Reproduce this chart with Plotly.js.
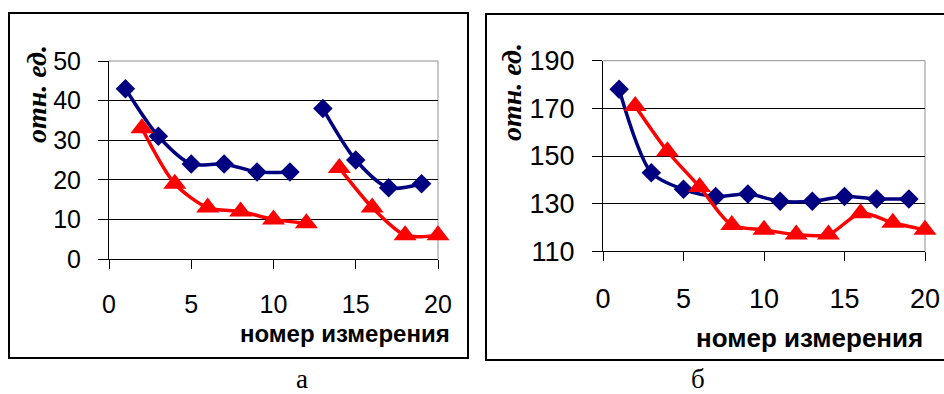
<!DOCTYPE html>
<html>
<head>
<meta charset="utf-8">
<script src="https://cdn.plot.ly/plotly-3.0.1.min.js"></script>
<style>html,body{margin:0;padding:0;background:#fff;}#chart{width:944px;height:394px;}</style>
</head>
<body>
<div id="chart"></div>
<script>
// ---- data (panel а) ----
const xBlueA = [1, 3, 5, 7, 9, 11, 12, 13, 15, 17, 19];
const yBlueA = [43, 31, 24, 24, 22, 22, null, 38, 25, 18, 19];
const xRedA  = [2, 4, 6, 8, 10, 12, 13, 14, 16, 18, 20];
const yRedA  = [33, 19, 13, 12, 10, 9, null, 23, 13, 6, 6];
// ---- data (panel б) ----
const xBlueB = [1, 3, 5, 7, 9, 11, 13, 15, 17, 19];
const yBlueB = [178, 143, 136, 133, 134, 131, 131, 133, 132, 132];
const xRedB  = [2, 4, 6, 8, 10, 12, 14, 16, 18, 20];
const yRedB  = [171, 152, 137, 121, 119, 117, 117, 126, 122, 119];
// ---- ticks / text ----
const xTicks = [0, 5, 10, 15, 20];
const yTicksA = [0, 10, 20, 30, 40, 50];
const yTicksB = [110, 130, 150, 170, 190];
const xTitle = 'номер измерения';
const yTitle = 'отн. ед.';
const panelLabels = ['а', 'б'];

const W = 944, H = 394;
const px = v => v / W;
const py = v => 1 - v / H;

const BLUE = '#000080', RED = '#ff0000';
const sans = 'Liberation Sans, Arial, sans-serif';
const serif = 'Liberation Serif, Times New Roman, serif';

function line(x, y, color, symbol, size, xa, ya) {
  return {
    x: x, y: y, xaxis: xa, yaxis: ya, type: 'scatter', mode: 'lines+markers',
    connectgaps: false, cliponaxis: false, hoverinfo: 'skip',
    line: {color: color, width: 3.5, shape: 'spline', smoothing: 0.8},
    marker: {color: color, symbol: symbol, size: size, line: {width: 0}}
  };
}

const traces = [
  line(xBlueA, yBlueA, BLUE, 'diamond', 15, 'x', 'y'),
  line(xRedA, yRedA, RED, 'triangle-up', 20, 'x', 'y'),
  line(xBlueB, yBlueB, BLUE, 'diamond', 15, 'x2', 'y2'),
  line(xRedB, yRedB, RED, 'triangle-up', 20, 'x2', 'y2')
];

function xax(dom, fs, standoff) {
  return {
    domain: dom, range: [0, 20], tickvals: xTicks, ticktext: xTicks.map(String),
    showgrid: false, zeroline: false, showline: true, linecolor: '#000', linewidth: 1,
    ticks: 'outside', ticklen: 9, tickcolor: '#000', tickwidth: 1,
    tickfont: {family: sans, size: fs, color: '#000'}, ticklabelstandoff: standoff,
    fixedrange: true
  };
}
function yax(dom, rng, vals, fs, anchor) {
  return {
    domain: dom, range: rng, tickvals: vals, ticktext: vals.map(String), anchor: anchor,
    showgrid: true, gridcolor: '#000', gridwidth: 1, zeroline: false,
    showline: true, linecolor: '#000', linewidth: 1,
    ticks: 'outside', ticklen: 10, tickcolor: '#000', tickwidth: 1,
    tickfont: {family: sans, size: fs, color: '#000'}, ticklabelstandoff: 12,
    fixedrange: true
  };
}

const GRAY = '#909090';
const layout = {
  width: W, height: H, margin: {l: 0, r: 0, t: 0, b: 0},
  paper_bgcolor: '#fff', plot_bgcolor: 'rgba(0,0,0,0)', showlegend: false,
  xaxis: Object.assign(xax([px(109), px(438)], 25, 14), {anchor: 'y'}),
  yaxis: yax([py(259), py(61)], [0, 50], yTicksA, 25, 'x'),
  xaxis2: Object.assign(xax([px(603), px(925)], 27, 14), {anchor: 'y2'}),
  yaxis2: yax([py(251.3), py(60.7)], [110, 190], yTicksB, 27, 'x2'),
  shapes: [
    {type: 'line', xref: 'x domain', yref: 'y domain', x0: 0, x1: 1, y0: 1, y1: 1,
     line: {color: GRAY, width: 1}, layer: 'above'},
    {type: 'line', xref: 'x domain', yref: 'y domain', x0: 1, x1: 1, y0: 0, y1: 1,
     line: {color: GRAY, width: 1}, layer: 'below'},
    {type: 'line', xref: 'x2 domain', yref: 'y2 domain', x0: 0, x1: 1, y0: 1, y1: 1,
     line: {color: GRAY, width: 1}, layer: 'above'},
    {type: 'line', xref: 'x2 domain', yref: 'y2 domain', x0: 1, x1: 1, y0: 0, y1: 1,
     line: {color: GRAY, width: 1}, layer: 'below'},
    {type: 'rect', xref: 'paper', yref: 'paper', x0: px(9), x1: px(468), y0: py(358), y1: py(13),
     line: {color: '#000', width: 2}, layer: 'above'},
    {type: 'rect', xref: 'paper', yref: 'paper', x0: px(486), x1: px(960), y0: py(360), y1: py(14),
     line: {color: '#000', width: 2}, layer: 'above'}
  ],
  annotations: [
    {xref: 'paper', yref: 'paper', x: px(452), y: py(333), xanchor: 'right', yanchor: 'middle',
     text: '<b>' + xTitle + '</b>', showarrow: false, font: {family: sans, size: 24, color: '#000'}},
    {xref: 'paper', yref: 'paper', x: px(925), y: py(338), xanchor: 'right', yanchor: 'middle',
     text: '<b>' + xTitle + '</b>', showarrow: false, font: {family: sans, size: 26, color: '#000'}},
    {xref: 'paper', yref: 'paper', x: px(37), y: py(94), xanchor: 'center', yanchor: 'middle', textangle: -90,
     text: '<b><i>' + yTitle + '</i></b>', showarrow: false, font: {family: serif, size: 28, color: '#000'}},
    {xref: 'paper', yref: 'paper', x: px(511), y: py(92), xanchor: 'center', yanchor: 'middle', textangle: -90,
     text: '<b><i>' + yTitle + '</i></b>', showarrow: false, font: {family: serif, size: 28, color: '#000'}},
    {xref: 'paper', yref: 'paper', x: px(302), y: py(396), xanchor: 'center', yanchor: 'bottom',
     text: panelLabels[0], showarrow: false, font: {family: serif, size: 27, color: '#000'}},
    {xref: 'paper', yref: 'paper', x: px(698), y: py(396), xanchor: 'center', yanchor: 'bottom',
     text: panelLabels[1], showarrow: false, font: {family: serif, size: 27, color: '#000'}}
  ]
};

Plotly.newPlot('chart', traces, layout, {staticPlot: true, displayModeBar: false});
</script>
</body>
</html>
